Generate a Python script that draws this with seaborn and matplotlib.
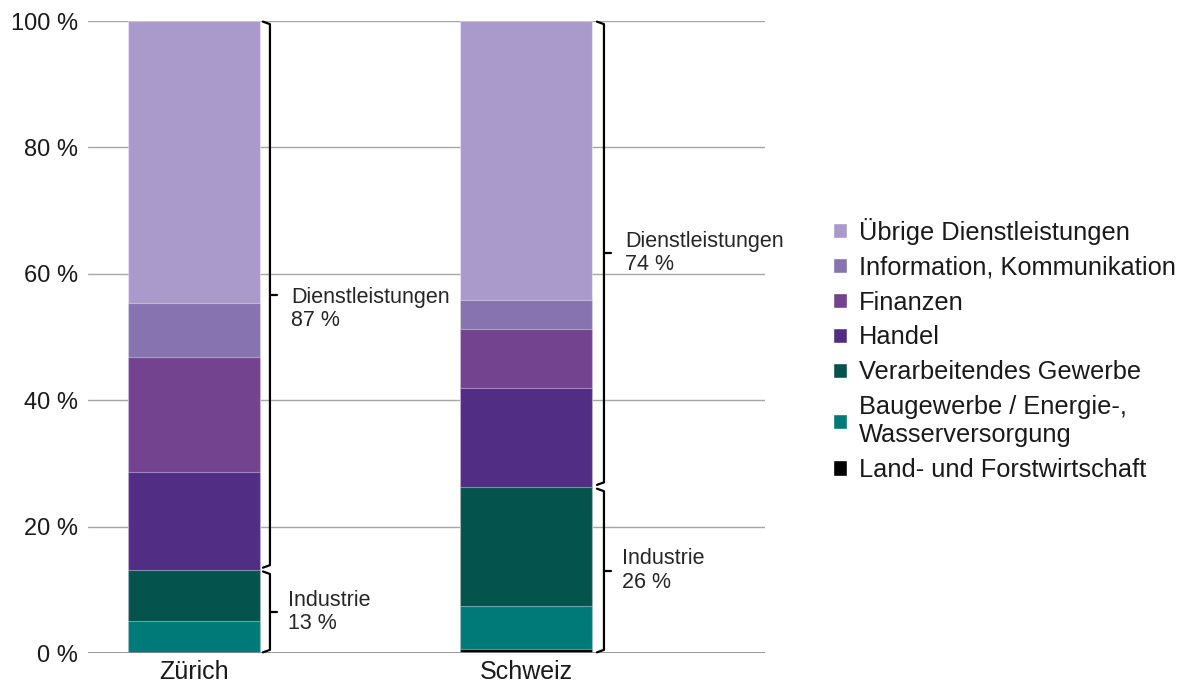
import pandas as pd
import numpy as np
import matplotlib
matplotlib.use("Agg")
import matplotlib.pyplot as plt
import seaborn as sns
from matplotlib.patches import Patch

# data (shares in %)
regions = ["Zürich", "Schweiz"]
sectors = ["Land- und Forstwirtschaft", "Baugewerbe / Energie-,\nWasserversorgung",
           "Verarbeitendes Gewerbe", "Handel", "Finanzen",
           "Information, Kommunikation", "Übrige Dienstleistungen"]
land = [0.0, 0.6]
bau = [5.1, 6.8]
verarbeitend = [8.1, 18.9]
handel = [15.4, 15.7]
finanzen = [18.3, 9.3]
info = [8.5, 4.6]
uebrige = [44.6, 44.1]
industrie_label = ["13 %", "26 %"]
dienst_label = ["87 %", "74 %"]
colors = ["#000000", "#007A78", "#04544D", "#522D84", "#734390", "#8673B0", "#A99ACB"]

sns.set_style("white")
plt.rcParams["font.family"] = ["Liberation Sans", "DejaVu Sans"]

values = np.array([land, bau, verarbeitend, handel, finanzen, info, uebrige])
cum = values.cumsum(axis=0)
df = pd.DataFrame(cum.T, columns=sectors)
df["Region"] = regions

fig = plt.figure(figsize=(11.83, 6.86), dpi=100)
ax = fig.add_axes([88 / 1183, 1 - 653 / 686, (765 - 88) / 1183, (653 - 21) / 686])

# stacked bars: draw the cumulative totals from top to bottom
for i in range(len(sectors) - 1, -1, -1):
    sns.barplot(data=df, x="Region", y=sectors[i], color=colors[i], width=0.40,
                saturation=1, edgecolor=(1, 1, 1, 0.4), linewidth=0.8, ax=ax, zorder=3)

ax.set_ylim(0, 100)
ax.set_xlim(-0.319, 1.72)
ax.set_yticks([0, 20, 40, 60, 80, 100])
ax.set_yticklabels([f"{t} %" for t in [0, 20, 40, 60, 80, 100]])
ax.set_xlabel("")
ax.set_ylabel("")
ax.yaxis.grid(True, color="#A6A6A6", linewidth=1.0, zorder=0)
ax.set_axisbelow(True)
for s in ax.spines.values():
    s.set_visible(False)
ax.axhline(0, color="#8C8C8C", linewidth=1.2, zorder=4)
ax.tick_params(axis="y", length=0, pad=7, labelsize=17, labelcolor="#1a1a1a")
ax.tick_params(axis="x", length=0, pad=5, labelsize=18, labelcolor="#1a1a1a")


# braces to the right of each bar
px = 1 / 332.0
def brace(ax, x, y0, y1):
    h = 7 * px
    ax.plot([x - h, x, x, x - h], [y0, y0 + 0.4, y1 - 0.4, y1],
            color="black", linewidth=1.6, zorder=5, clip_on=False,
            solid_joinstyle="round")
    ym = (y0 + y1) / 2
    ax.plot([x, x + h], [ym, ym], color="black", linewidth=1.6, zorder=5)
    return ym

for k in range(2):
    xb = k + 0.229 if k == 0 else k + 0.235
    ind_top = cum[2][k]
    ym_i = brace(ax, xb, 0.1, ind_top - 0.3)
    ym_d = brace(ax, xb, ind_top + 0.3, 99.9)
    off = 0 if k == 1 else -2.3
    ax.text(xb + 18 * px, ym_i, "Industrie\n" + industrie_label[k], fontsize=15.5,
            va="center", ha="left", linespacing=1.15)
    ax.text(xb + 21 * px, ym_d + off, "Dienstleistungen\n" + dienst_label[k], fontsize=15.5,
            va="center", ha="left", linespacing=1.15)

handles = [Patch(facecolor=colors[i], label=sectors[i]) for i in range(len(sectors) - 1, -1, -1)]
fig.legend(handles=handles, loc="center left", bbox_to_anchor=(0.685, 0.49),
           frameon=False, fontsize=18.3, handlelength=0.55, handleheight=0.55,
           handletextpad=0.45, labelspacing=0.43, labelcolor="#1a1a1a")

fig.savefig("out.png", dpi=100)
